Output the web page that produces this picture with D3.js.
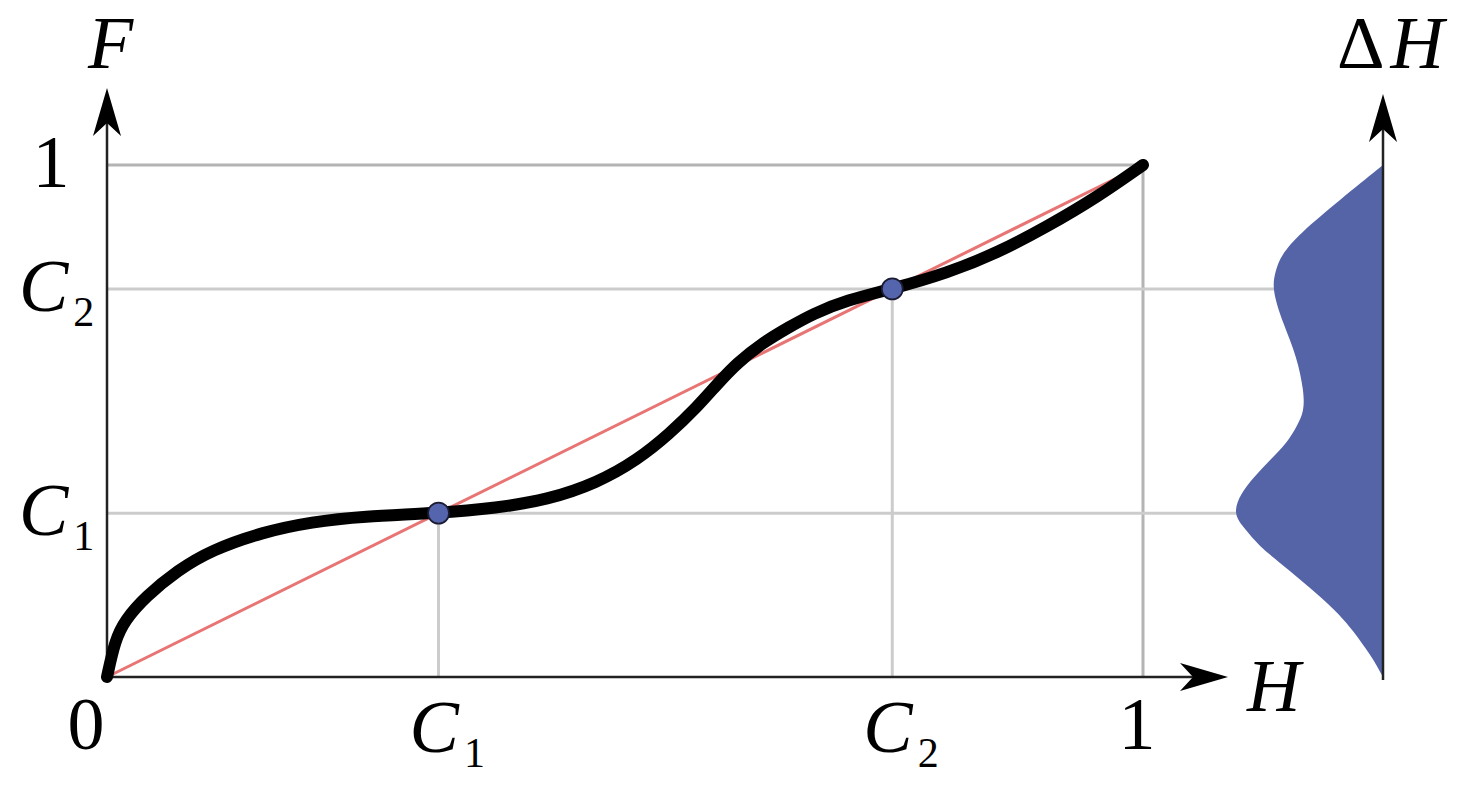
<!DOCTYPE html>
<html>
<head>
<meta charset="utf-8">
<script src="https://cdn.jsdelivr.net/npm/d3@7"></script>
<style>
  html, body { margin: 0; padding: 0; background: #ffffff; }
  svg { display: block; }
</style>
</head>
<body>
<svg id="chart" width="1465" height="787"></svg>
<script>
// ---------- data ----------
const C1 = 0.32;
const C2 = 0.758;

// transfer curve F(H)
const curveH = [0, 0.0077, 0.0174, 0.0367, 0.0685, 0.101, 0.150, 0.198, 0.246, 0.32,
                0.376, 0.425, 0.473, 0.512, 0.543, 0.570, 0.589, 0.608, 0.633, 0.659,
                0.681, 0.714, 0.758, 0.811, 0.859, 0.907, 0.956, 1.0];
const curveF = [0, 0.072, 0.111, 0.156, 0.209, 0.248, 0.283, 0.303, 0.314, 0.32,
                0.330, 0.346, 0.379, 0.424, 0.475, 0.528, 0.572, 0.613, 0.653, 0.684,
                0.709, 0.736, 0.758, 0.789, 0.828, 0.879, 0.9375, 1.0];

// marked points
const markH = [C1, C2];
const markF = [C1, C2];

// density ΔH along F
const densF   = [1.0, 0.932, 0.865, 0.824, 0.791, 0.756, 0.691, 0.625, 0.557, 0.518, 0.490,
                 0.457, 0.424, 0.391, 0.357, 0.318, 0.289, 0.256, 0.223, 0.189, 0.156,
                 0.123, 0.088, 0.055, 0.035, 0.0];
const densVal = [0, 0.43, 0.84, 1.02, 1.08, 1.11, 1.00, 0.86, 0.79, 0.79, 0.86,
                 0.96, 1.13, 1.29, 1.43, 1.50, 1.38, 1.24, 1.03, 0.82, 0.62,
                 0.44, 0.29, 0.17, 0.10, 0];

// tick labels
const xTickValues = [0, C1, C2, 1];
const xTickLabels = [["0", ""], ["C", "1"], ["C", "2"], ["1", ""]];
const yTickValues = [1, C2, C1];
const yTickLabels = [["1", ""], ["C", "2"], ["C", "1"]];

// ---------- drawing ----------
const FONT = '"Liberation Serif", "Times New Roman", Times, Tinos, "Nimbus Roman", "FreeSerif", "DejaVu Serif", "Noto Serif", serif';
const svg = d3.select("#chart");
const x = d3.scaleLinear().domain([0, 1]).range([107, 1143]);
const y = d3.scaleLinear().domain([0, 1]).range([677, 165]);
const dAxisX = 1383;
const dScale = d3.scaleLinear().domain([0, 1.47]).range([dAxisX, 1236]);

const gridLight = "#cccccc";
const gridDark = "#b4b4b4";

// grid: boundary box at 1
svg.append("line").attr("x1", x(0)).attr("x2", x(1)).attr("y1", y(1)).attr("y2", y(1))
  .attr("stroke", gridDark).attr("stroke-width", 3);
svg.append("line").attr("x1", x(1)).attr("x2", x(1)).attr("y1", y(0)).attr("y2", y(1))
  .attr("stroke", gridDark).attr("stroke-width", 3);

// C lines: horizontal to the density edge, vertical up to the dot
const edgeAt = [densVal[densF.indexOf(0.318)], densVal[densF.indexOf(0.756)]];
[C1, C2].forEach((c, i) => {
  svg.append("line").attr("x1", x(0)).attr("x2", dScale(edgeAt[i]) + 4)
    .attr("y1", y(c)).attr("y2", y(c))
    .attr("stroke", gridLight).attr("stroke-width", 3);
  svg.append("line").attr("x1", x(c)).attr("x2", x(c))
    .attr("y1", y(0)).attr("y2", y(c))
    .attr("stroke", gridLight).attr("stroke-width", 3);
});

// diagonal reference line
svg.append("line").attr("x1", x(0)).attr("y1", y(0)).attr("x2", x(1)).attr("y2", y(1))
  .attr("stroke", "#e87474").attr("stroke-width", 3);

// density area
const densData = densF.map((f, i) => ({ f, v: densVal[i] }));
const area = d3.area()
  .y(d => y(d.f))
  .x0(dScale(0))
  .x1(d => dScale(d.v))
  .curve(d3.curveBasis);
svg.append("path").datum(densData).attr("d", area).attr("fill", "#5464a7");

// arrow head helper: tip at (tx,ty), pointing in direction angle (deg)
function arrow(tx, ty, angle) {
  svg.append("path")
    .attr("d", "M0,0 L-48,-14 L-35,0 L-48,14 Z")
    .attr("transform", `translate(${tx},${ty}) rotate(${angle})`)
    .attr("fill", "#000");
}

// axes
svg.append("line").attr("x1", x(0)).attr("x2", x(0)).attr("y1", y(0) + 1).attr("y2", 115)
  .attr("stroke", "#222").attr("stroke-width", 2.5);
arrow(x(0), 88, -90);
svg.append("line").attr("x1", x(0) - 1).attr("x2", 1195).attr("y1", y(0)).attr("y2", y(0))
  .attr("stroke", "#222").attr("stroke-width", 2.5);
arrow(1228, y(0), 0);
svg.append("line").attr("x1", dAxisX).attr("x2", dAxisX).attr("y1", y(0) + 3).attr("y2", 125)
  .attr("stroke", "#222").attr("stroke-width", 2.5);
arrow(dAxisX, 94, -90);

// transfer curve
const curveData = curveH.map((h, i) => ({ h, f: curveF[i] }));
const line = d3.line().x(d => x(d.h)).y(d => y(d.f)).curve(d3.curveBasis);
svg.append("path").datum(curveData).attr("d", line)
  .attr("fill", "none").attr("stroke", "#000").attr("stroke-width", 12)
  .attr("stroke-linecap", "round").attr("stroke-linejoin", "round");

// dots
svg.selectAll("circle.mark").data(markH).enter().append("circle")
  .attr("class", "mark")
  .attr("cx", d => x(d)).attr("cy", (d, i) => y(markF[i]))
  .attr("r", 10.5)
  .attr("fill", "#5565ad").attr("stroke", "#1b1b33").attr("stroke-width", 1.8);

// label helper
const FS = 74, SUB = 42;
function label(px, py, main, sub, anchor, italic) {
  const t = svg.append("text").attr("x", px).attr("y", py)
    .attr("font-family", FONT).attr("font-size", FS).attr("text-anchor", anchor)
    .attr("fill", "#000");
  t.append("tspan").text(main).attr("font-style", italic ? "italic" : "normal");
  if (sub) {
    t.append("tspan").text(sub).attr("font-size", SUB).attr("dx", 5).attr("dy", 15);
  }
  return t;
}

// x tick labels
xTickValues.forEach((v, i) => {
  const [m, s] = xTickLabels[i];
  if (s) label(x(v) - 29, 752, m, s, "start", true);
  else label(x(v) + (v === 0 ? -21 : -6), 749, m, "", "middle", false);
});

// y tick labels
yTickValues.forEach((v, i) => {
  const [m, s] = yTickLabels[i];
  if (s) label(19, y(v) + 22, m, s, "start", true);
  else label(51, y(v) + 22, m, "", "middle", false);
});

// axis titles
svg.append("text").attr("x", 88).attr("y", 68).attr("font-size", FS)
  .attr("font-family", FONT).attr("font-style", "italic").text("F");
svg.append("text").attr("x", 1247).attr("y", 711).attr("font-size", FS)
  .attr("font-family", FONT).attr("font-style", "italic").text("H");
const dt = svg.append("text").attr("x", 1337).attr("y", 68).attr("font-size", FS)
  .attr("font-family", FONT);
dt.append("tspan").text("Δ");
dt.append("tspan").attr("font-style", "italic").attr("dx", 6).text("H");
</script>
</body>
</html>
